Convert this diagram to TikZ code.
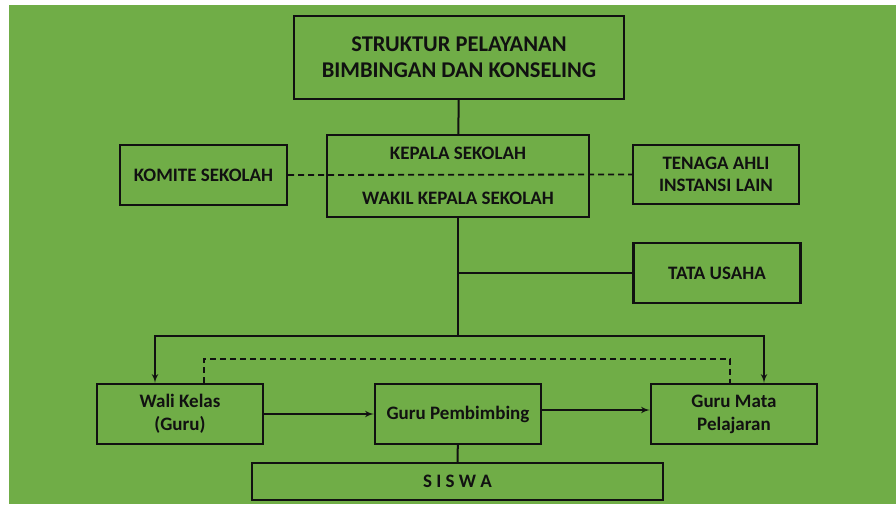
\documentclass[tikz,border=0pt]{standalone}
\usepackage{fontspec}
\setmainfont{Carlito}
\usepackage{xcolor}
\usetikzlibrary{arrows, calc}
\definecolor{bggreen}{RGB}{112,173,71}
\definecolor{inkdark}{RGB}{17,17,17}

\begin{document}
\begin{tikzpicture}[
    x=1pt, y=-1pt,
    unit/.style={rectangle, draw=inkdark, line width=2.4pt, align=center, inner sep=0pt, text=inkdark, font=\bfseries\fontsize{19}{23}\selectfont},
    line/.style={draw=inkdark, line width=2pt},
    dline/.style={draw=inkdark, line width=1.8pt, dash pattern=on 6pt off 4pt},
    arrow/.style={-latex', draw=inkdark, line width=2pt}
]
    % background with the white strip on top and left
    \useasboundingbox (0,0) rectangle (896,504);
    \fill[white] (0,0) rectangle (896,504);
    \fill[bggreen] (9,5) rectangle (896,504);

    \node[unit, minimum width=330pt, minimum height=83pt, font=\bfseries\fontsize{22.5}{26}\selectfont] (title) at (459,57.5) {STRUKTUR PELAYANAN\\BIMBINGAN DAN KONSELING};
    \node[unit, minimum width=262pt, minimum height=82pt] (kepsek) at (458,176) {KEPALA SEKOLAH\\[22pt]WAKIL KEPALA SEKOLAH};
    \node[unit, minimum width=167pt, minimum height=60pt] (komite) at (203.5,175) {KOMITE SEKOLAH};
    \node[unit, minimum width=166pt, minimum height=59pt, font=\bfseries\fontsize{19}{22}\selectfont] (ahli) at (716,174.5) {TENAGA AHLI\\INSTANSI LAIN};
    \node[unit, minimum width=167pt, minimum height=60pt] (tu) at (717,273) {TATA USAHA};
    \node[unit, minimum width=166pt, minimum height=60pt] (walikelas) at (180,414) {Wali Kelas\\(Guru)};
    \node[unit, minimum width=166pt, minimum height=60pt] (gurubk) at (458,414) {Guru Pembimbing};
    \node[unit, minimum width=166pt, minimum height=60pt] (gurumapel) at (734,414) {Guru Mata\\Pelajaran};
    \node[unit, minimum width=411pt, minimum height=37pt] (siswa) at (457.5,481.5) {S I S W A};

    \coordinate (hub) at (458,336);

    % Main line
    \draw[line] (title) -- (kepsek);
    \draw[line] (kepsek) -- (hub);
    \draw[line] (tu.west) -- (tu.west -| hub);
    \draw[line] (gurubk) -- (siswa);

    % Coordination lines
    \draw[dline] (komite.east) -- (ahli.west);
    \draw[dline] ([xshift=24pt]walikelas.north) -- ++(0,-24) -| ([xshift=-4pt]gurumapel.north);

    % Arrows down and across
    \draw[arrow] (hub) -| ([xshift=-25pt]walikelas.north);
    \draw[arrow] (hub) -| ([xshift=30pt]gurumapel.north);
    \draw[arrow] (walikelas) -- (gurubk);
    \draw[arrow] ([yshift=4pt]gurubk.east) -- ([yshift=4pt]gurumapel.west);
\end{tikzpicture}
\end{document}
